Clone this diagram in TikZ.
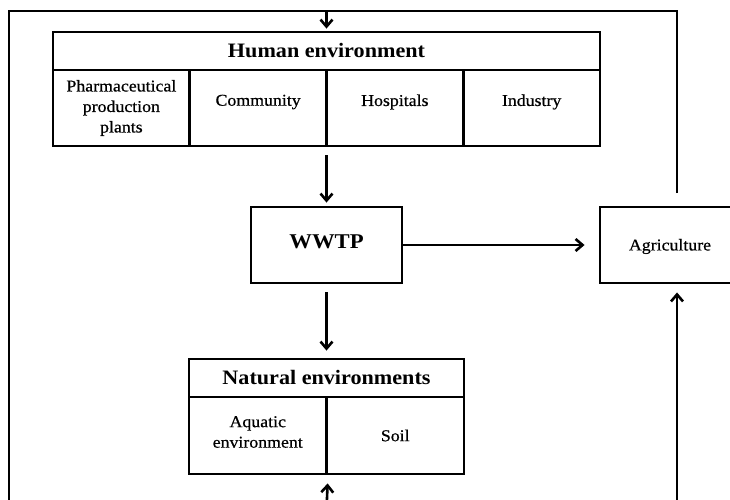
\documentclass[tikz,border=0pt]{standalone}
\usepackage{fontspec}
\setmainfont{Liberation Serif}[FakeStretch=1.08]
\newfontfamily\cellfont{Liberation Serif}[FakeStretch=1.08, FakeBold=0.6]
\usetikzlibrary{arrows.meta}
\begin{document}
\begin{tikzpicture}[x=1pt,y=-1pt,
  frame/.style={draw, line width=2.9pt, inner sep=0pt, rectangle},
  titletxt/.style={font=\bfseries\fontsize{20.5}{24}\selectfont, inner sep=0pt},
  celltxt/.style={font=\cellfont\fontsize{16.5}{20.5}\selectfont, align=center, inner sep=0pt},
  conn/.style={line width=2.6pt},
  arr/.style={conn, -{Straight Barb[length=7pt,width=12pt]}}]
\clip (0,0) rectangle (730,500);

% Human environment block
\node[frame, minimum width=547pt, minimum height=38pt] (human) at (326.5,51) {};
\node[titletxt] (humanT) at (human.center) {Human environment};
\node[frame, minimum width=136.75pt, minimum height=76pt] (pharma) at (121.375,108) {};
\node[frame, minimum width=136.75pt, minimum height=76pt] (comm) at (258.125,108) {};
\node[frame, minimum width=136.75pt, minimum height=76pt] (hosp) at (394.875,108) {};
\node[frame, minimum width=136.75pt, minimum height=76pt] (ind) at (531.625,108) {};
\node[celltxt] (pharmaT) at (pharma.center) {Pharmaceutical\\production\\plants};
\node[celltxt] (commT) at ([yshift=6pt]comm.center) {Community};
\node[celltxt] (hospT) at ([yshift=6pt]hosp.center) {Hospitals};
\node[celltxt] (indT) at ([yshift=6pt]ind.center) {Industry};

% Treatment plant and agriculture
\node[frame, minimum width=151pt, minimum height=76pt] (wwtp) at (326.5,245) {};
\node[font=\bfseries\fontsize{21}{24}\selectfont, inner sep=0pt] (wwtpT) at ([yshift=3pt]wwtp.center) {WWTP};
\node[frame, minimum width=140pt, minimum height=76pt] (agri) at (670,245) {};
\node[celltxt] (agriT) at ([yshift=-1.5pt]agri.center) {Agriculture};

% Natural environments block
\node[frame, minimum width=275pt, minimum height=38pt] (nat) at (326.5,378) {};
\node[titletxt] (natT) at (nat.center) {Natural environments};
\node[frame, minimum width=137.5pt, minimum height=77pt] (aqua) at (257.75,435.5) {};
\node[frame, minimum width=137.5pt, minimum height=77pt] (soil) at (395.25,435.5) {};
\node[celltxt] (aquaT) at ([yshift=3.5pt]aqua.center) {Aquatic\\environment};
\node[celltxt] (soilT) at (soil.center) {Soil};

% Connector end points
\coordinate (topL) at (9,11);
\coordinate (topR) at (677,11);
\coordinate (topM) at (326.5,11);
\coordinate (botL) at (9,510);
\coordinate (botM) at (326.5,510);
\coordinate (botR) at (677,510);
\coordinate (agriUp) at (677,193);
\coordinate (humOut) at (326.5,155);
\coordinate (wwtpOut) at (326.5,292);

% Return loop over the top
\draw[conn, line join=miter] (agriUp) -- (topR) -- (topL) -- (botL);
\draw[arr, shorten >=2pt] (topM) -- (human.north);

% Main flow
\draw[arr, shorten >=3pt] (humOut) -- (wwtp.north);
\draw[arr, shorten >=14pt] (wwtp.east) -- (agri.west);
\draw[arr, shorten >=7pt] (wwtpOut) -- (nat.north);

% Inputs from below
\draw[arr, shorten >=8pt] (botM) -- (aqua.south east);
\draw[arr, shorten >=8pt] (botR) -- (agri.south -| botR);
\end{tikzpicture}
\end{document}
